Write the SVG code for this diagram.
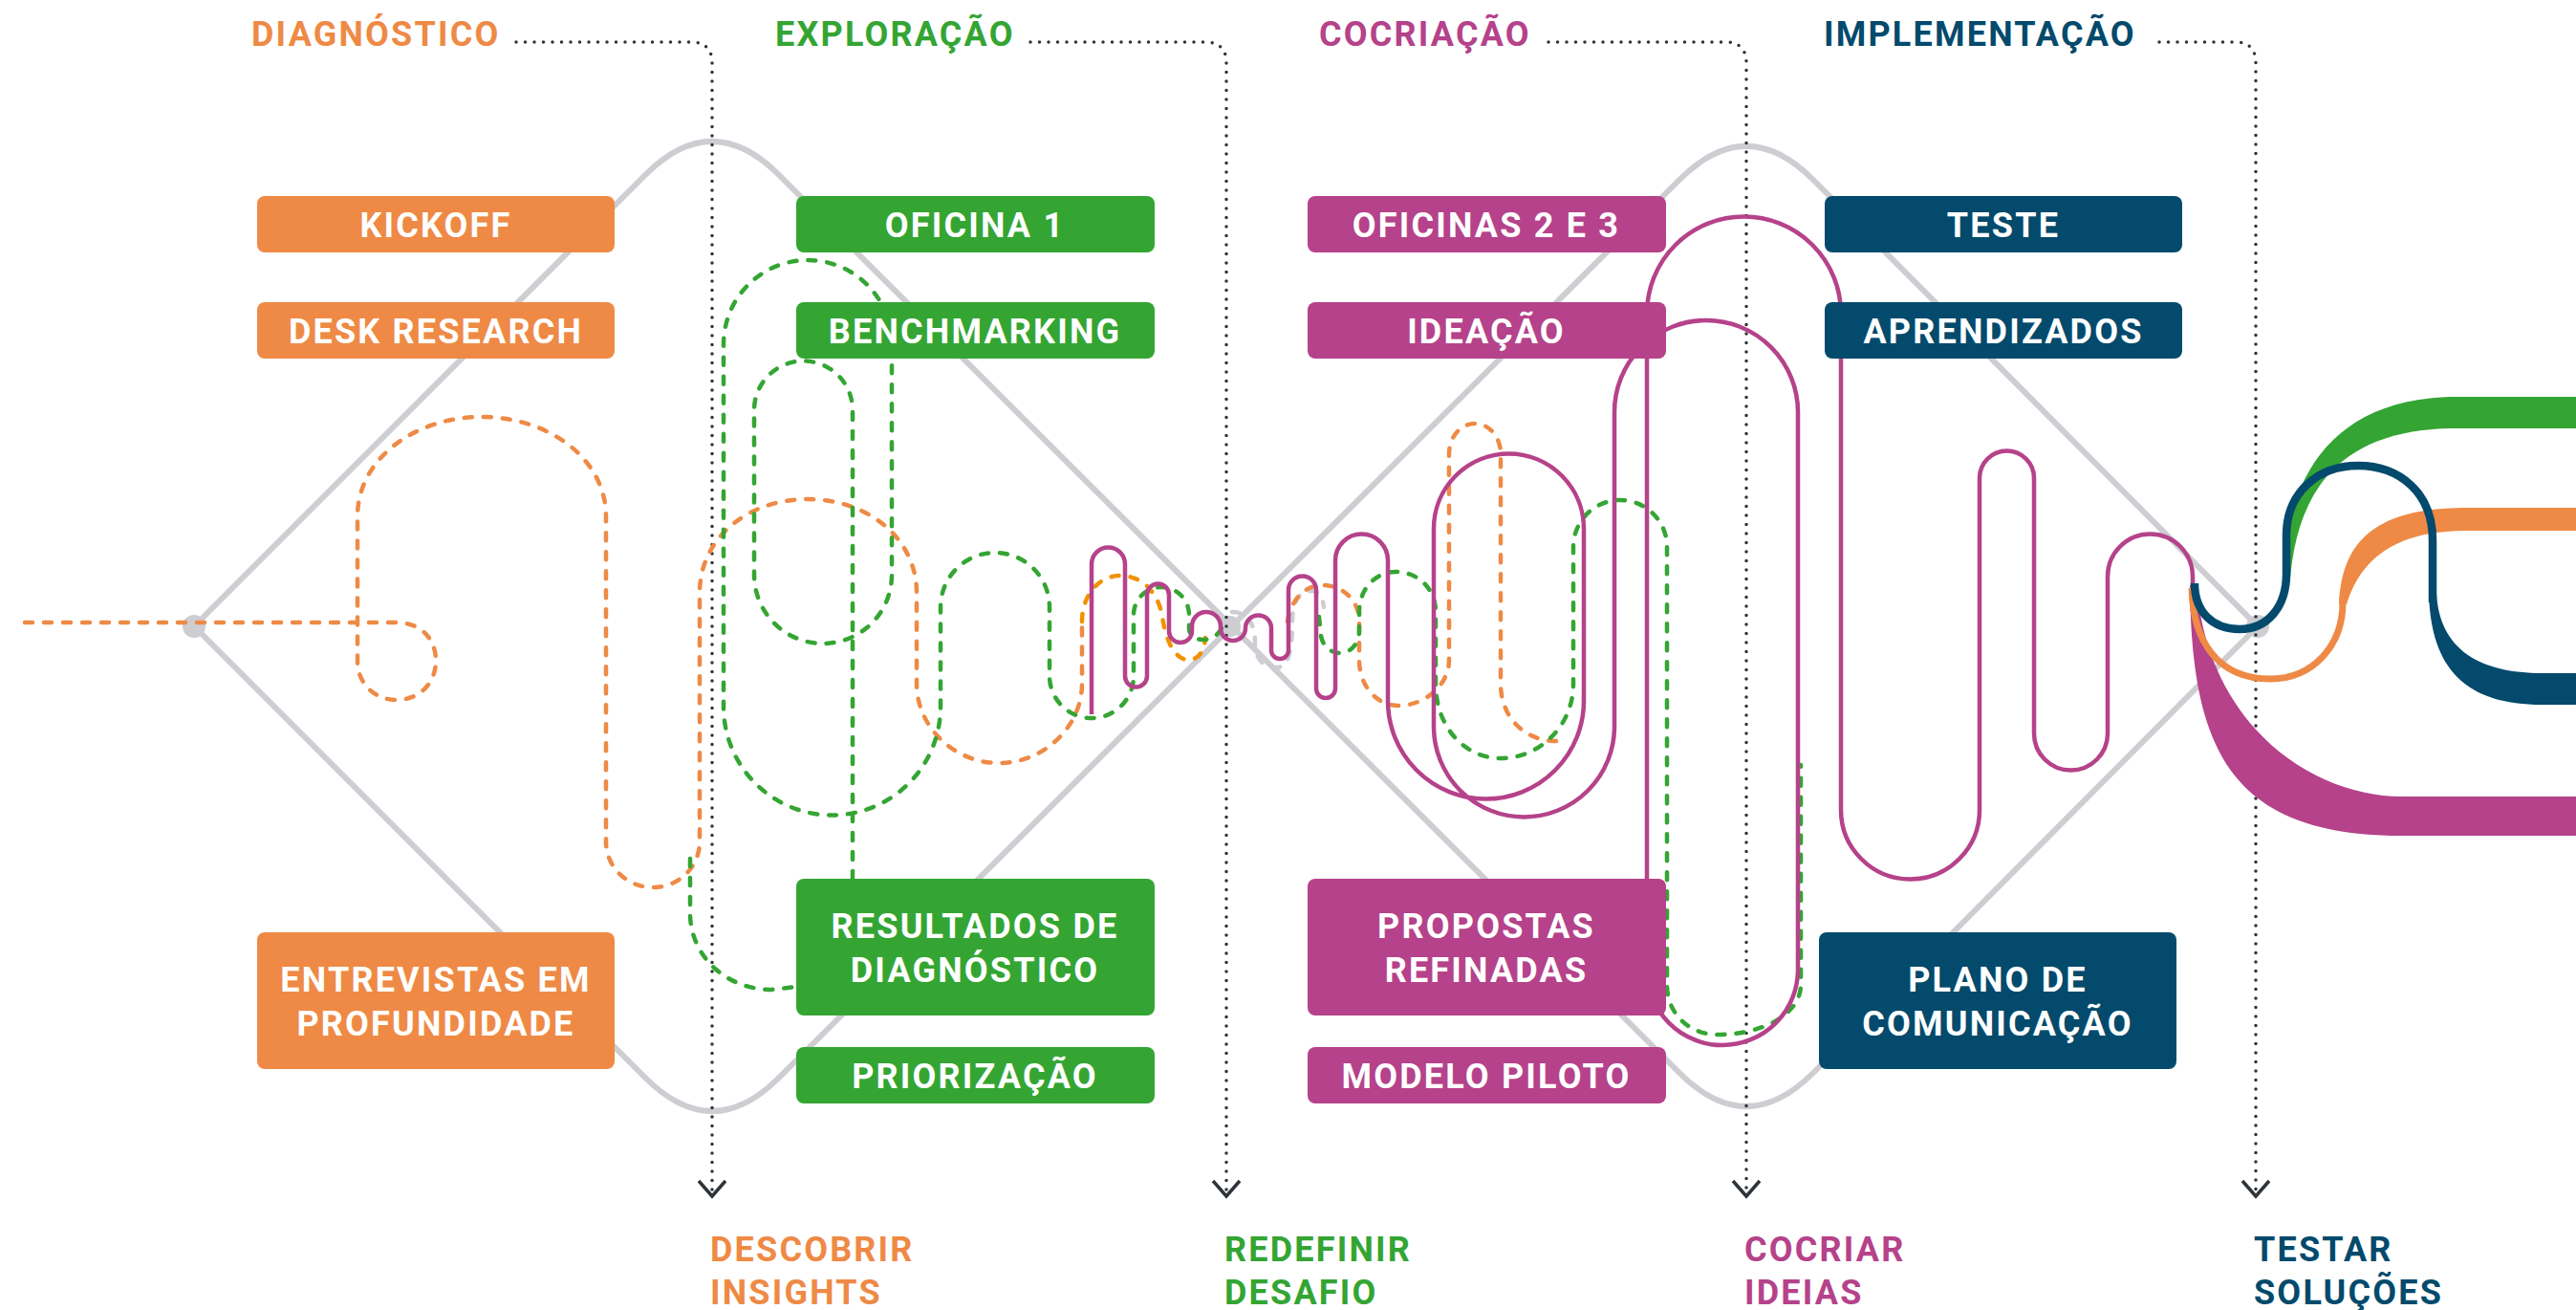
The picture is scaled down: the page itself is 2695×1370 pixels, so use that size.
<svg xmlns="http://www.w3.org/2000/svg" width="2695" height="1370" viewBox="0 0 2695 1370">
  <style>
    .lbl { font-family: Roboto, "Liberation Sans", sans-serif; font-weight: 700; font-size: 36px; letter-spacing: 2.2px; }
    .box text { fill: #ffffff; text-anchor: middle; }
    .grey { fill: none; stroke: #CDCDD2; stroke-width: 6; stroke-linejoin: round; }
    .phase { fill: none; stroke: #2E3439; stroke-width: 3.5; stroke-linecap: round; stroke-dasharray: 0 9.5; }
    .arrow { fill: none; stroke: #2E3439; stroke-width: 3.5; }
    .dash { fill: none; stroke-width: 4.5; stroke-linecap: round; stroke-dasharray: 8 12; }
    .line { fill: none; stroke-width: 4.5; }
    .thick-o { fill: none; stroke-width: 7; }
    .thick-b { fill: none; stroke-width: 8.5; }
    .c-o { fill: #EE8A45; } .s-o { stroke: #EE8A45; }
    .c-g { fill: #34A533; } .s-g { stroke: #34A533; }
    .c-m { fill: #B5428A; } .s-m { stroke: #B5428A; }
    .c-b { fill: #034A6C; } .s-b { stroke: #034A6C; }
  </style>

  <!-- double diamond frame -->
  <g id="frame">
    <path class="grey" d="M203,655 L675,183 Q745,113 815,183 L1757,1122 Q1827,1192 1897,1122 L2362,655"/>
    <path class="grey" d="M203,655 L675,1127 Q745,1197 815,1127 L1757,188 Q1827,118 1897,188 L2362,655"/>
    <circle cx="203" cy="655" r="12" fill="#CDCDD2"/>
    <circle cx="1287" cy="655" r="11" fill="#CDCDD2"/>
    <circle cx="2362" cy="655" r="12" fill="#CDCDD2"/>
  </g>

  <!-- phase dividers -->
  <g id="phase-lines">
    <path class="phase" d="M540,44 L723,44 Q745,44 745,66 L745,1245"/>
    <path class="phase" d="M1078,44 L1261,44 Q1283,44 1283,66 L1283,1245"/>
    <path class="phase" d="M1620,44 L1805,44 Q1827,44 1827,66 L1827,1245"/>
    <path class="phase" d="M2259,44 L2338,44 Q2360,44 2360,66 L2360,1245"/>
    <polyline class="arrow" points="731,1235 745,1251 759,1235"/>
    <polyline class="arrow" points="1269,1235 1283,1251 1297,1235"/>
    <polyline class="arrow" points="1813,1235 1827,1251 1841,1235"/>
    <polyline class="arrow" points="2346,1235 2360,1251 2374,1235"/>
  </g>

  <!-- flow paths -->
  <g id="connectors">
    <path class="dash" stroke="#CDCDD2" d="M1289,640 C1305,640 1313,652 1313,672 C1313,690 1322,698 1336,698 C1348,698 1352,680 1352,650 C1352,628 1360,618 1372,618 C1380,618 1384,625 1385,635"/>
    <path class="dash s-o" d="M26,651 L415,651 C440,651 456,668 456,691 C456,715 438,732 415,732 C392,732 374,715 374,691 L374,540 C374,480 434,436 504,436 C574,436 634,480 634,540 L634,880 C634,907 656,928 683,928 C710,928 732,907 732,880 L732,620 C732,563 782,522 845,522 C908,522 959,563 959,620 L959,715 C959,760 998,798 1045,798 C1092,798 1132,760 1132,715 L1132,650"/>
    <path class="dash" stroke="#F29100" d="M1132,650 C1132,622 1150,602 1172,602 C1195,602 1212,620 1216,645 C1220,672 1230,690 1243,690 C1255,690 1260,680 1261,667"/>
    <path class="dash s-o" d="M1347,650 C1350,628 1365,612 1383,612 C1405,612 1422,628 1422,650 L1422,690 C1422,717 1440,738 1463,738 C1490,738 1516,717 1516,690 L1516,475 C1516,457 1528,443 1543,443 C1558,443 1570,457 1570,475 L1570,715 C1570,750 1595,775 1628,775"/>

    <path class="dash s-g" d="M722,898 L722,955 C722,1000 760,1035 807,1035 L832,1032"/>
    <path class="dash s-g" d="M892,919 L892,429 A51.5,51.5 0 0 0 789,429 L789,601 A72,72 0 0 0 933,601 L933,360 A88,88 0 0 0 757,360 L757,739 A113.5,113.5 0 0 0 984,739 L984,635 A57,57 0 0 1 1098,635 L1098,707 A44,44 0 0 0 1186,707 L1186,643 A29,29 0 0 1 1244,643 L1244,657 C1244,672 1270,674 1278,657"/>
    <path class="dash s-g" d="M1380,645 L1382,665 C1384,676 1392,683 1402,683 C1413,683 1422,673 1422,660 L1422,640 C1422,615 1440,598 1460,598 C1483,598 1502,615 1502,640 L1502,715 C1502,760 1532,793 1570,793 C1610,793 1646,760 1646,715 L1646,572 A49,49 0 0 1 1744,572 L1744,1030 C1744,1060 1767,1082 1797,1082 C1845,1082 1884,1060 1884,1030 L1884,800"/>

    <path class="line s-m" d="M1142,747 L1142,590 A17.5,17.5 0 0 1 1177,590 L1177,707 A11.5,11.5 0 0 0 1200,707 L1200,622 A11.5,11.5 0 0 1 1223,622 L1223,660 A12,12 0 0 0 1247,660 L1247,655 A15,15 0 0 1 1277,655 L1277,657 A13,13 0 0 0 1303,657 A13.5,13.5 0 0 1 1330,657 L1330,680 A9,9 0 0 0 1348,680 L1348,617 A14.5,14.5 0 0 1 1377,617 L1377,720 A10,10 0 0 0 1397,720 L1397,586 A27.5,27.5 0 0 1 1452,586 L1452,733 A102.5,102.5 0 0 0 1657,733 L1657,553 A78.5,78.5 0 0 0 1500,553 L1500,760 A94.5,94.5 0 0 0 1689,760 L1689,431 A96,96 0 0 1 1881,431 L1881,1014 A79,79 0 0 1 1723,1014 L1723,328 A101.5,101.5 0 0 1 1926,328 L1926,847 A72.5,72.5 0 0 0 2071,847 L2071,500 A28.5,28.5 0 0 1 2128,500 L2128,767 A38.5,38.5 0 0 0 2205,767 L2205,603 A44.5,44.5 0 0 1 2294,603 L2294,640"/>

    <!-- outgoing ribbons -->
    <path class="c-g" d="M2389,605 C2390,500 2440,415 2570,415 L2695,415 L2695,448 L2570,448 C2460,448 2405,500 2396,605 Z"/>
    <path class="c-m" d="M2291,612 C2293,780 2330,874 2513,874 L2695,874 L2695,833 L2513,833 C2420,833 2310,760 2298,612 Z"/>
    <path class="thick-o s-o" d="M2293,615 C2294,670 2320,710 2375,710 C2420,710 2451,675 2451,630"/>
    <path class="c-o" d="M2447,632 C2450,570 2480,531 2580,531 L2695,531 L2695,555 L2580,555 C2500,555 2468,590 2455,632 Z"/>
    <path class="thick-b s-b" d="M2296,610 C2296,640 2315,658 2343,658 C2372,658 2392,635 2392,600 L2392,560 C2392,515 2425,487 2467,487 C2510,487 2545,515 2545,565 L2545,630"/>
    <path class="c-b" d="M2541,620 C2543,700 2580,737 2660,737 L2695,737 L2695,704 L2660,704 C2595,704 2552,680 2549,620 Z"/>
  </g>

  <!-- phase titles -->
  <g id="titles" class="lbl">
    <text x="263" y="48" class="c-o">DIAGNÓSTICO</text>
    <text x="811" y="48" class="c-g">EXPLORAÇÃO</text>
    <text x="1380" y="48" class="c-m">COCRIAÇÃO</text>
    <text x="1908" y="48" class="c-b">IMPLEMENTAÇÃO</text>
  </g>

  <!-- phase outcomes -->
  <g id="outcomes" class="lbl">
    <text x="743" y="1319" class="c-o">DESCOBRIR</text>
    <text x="743" y="1364" class="c-o">INSIGHTS</text>
    <text x="1281" y="1319" class="c-g">REDEFINIR</text>
    <text x="1281" y="1364" class="c-g">DESAFIO</text>
    <text x="1825" y="1319" class="c-m">COCRIAR</text>
    <text x="1825" y="1364" class="c-m">IDEIAS</text>
    <text x="2358" y="1319" class="c-b">TESTAR</text>
    <text x="2358" y="1364" class="c-b">SOLUÇÕES</text>
  </g>

  <!-- activity boxes -->
  <g id="kickoff" class="box lbl">
    <rect x="269" y="205" width="374" height="59" rx="8" class="c-o"/>
    <text x="456" y="248">KICKOFF</text>
  </g>
  <g id="desk-research" class="box lbl">
    <rect x="269" y="316" width="374" height="59" rx="8" class="c-o"/>
    <text x="456" y="359">DESK RESEARCH</text>
  </g>
  <g id="entrevistas" class="box lbl">
    <rect x="269" y="975" width="374" height="143" rx="8" class="c-o"/>
    <text x="456" y="1037">ENTREVISTAS EM</text>
    <text x="456" y="1083">PROFUNDIDADE</text>
  </g>

  <g id="oficina-1" class="box lbl">
    <rect x="833" y="205" width="375" height="59" rx="8" class="c-g"/>
    <text x="1020" y="248">OFICINA 1</text>
  </g>
  <g id="benchmarking" class="box lbl">
    <rect x="833" y="316" width="375" height="59" rx="8" class="c-g"/>
    <text x="1020" y="359">BENCHMARKING</text>
  </g>
  <g id="resultados" class="box lbl">
    <rect x="833" y="919" width="375" height="143" rx="8" class="c-g"/>
    <text x="1020" y="981">RESULTADOS DE</text>
    <text x="1020" y="1027">DIAGNÓSTICO</text>
  </g>
  <g id="priorizacao" class="box lbl">
    <rect x="833" y="1095" width="375" height="59" rx="8" class="c-g"/>
    <text x="1020" y="1138">PRIORIZAÇÃO</text>
  </g>

  <g id="oficinas-2-3" class="box lbl">
    <rect x="1368" y="205" width="375" height="59" rx="8" class="c-m"/>
    <text x="1555" y="248">OFICINAS 2 E 3</text>
  </g>
  <g id="ideacao" class="box lbl">
    <rect x="1368" y="316" width="375" height="59" rx="8" class="c-m"/>
    <text x="1555" y="359">IDEAÇÃO</text>
  </g>
  <g id="propostas" class="box lbl">
    <rect x="1368" y="919" width="375" height="143" rx="8" class="c-m"/>
    <text x="1555" y="981">PROPOSTAS</text>
    <text x="1555" y="1027">REFINADAS</text>
  </g>
  <g id="modelo-piloto" class="box lbl">
    <rect x="1368" y="1095" width="375" height="59" rx="8" class="c-m"/>
    <text x="1555" y="1138">MODELO PILOTO</text>
  </g>

  <g id="teste" class="box lbl">
    <rect x="1909" y="205" width="374" height="59" rx="8" class="c-b"/>
    <text x="2096" y="248">TESTE</text>
  </g>
  <g id="aprendizados" class="box lbl">
    <rect x="1909" y="316" width="374" height="59" rx="8" class="c-b"/>
    <text x="2096" y="359">APRENDIZADOS</text>
  </g>
  <g id="plano" class="box lbl">
    <rect x="1903" y="975" width="374" height="143" rx="8" class="c-b"/>
    <text x="2090" y="1037">PLANO DE</text>
    <text x="2090" y="1083">COMUNICAÇÃO</text>
  </g>
</svg>
